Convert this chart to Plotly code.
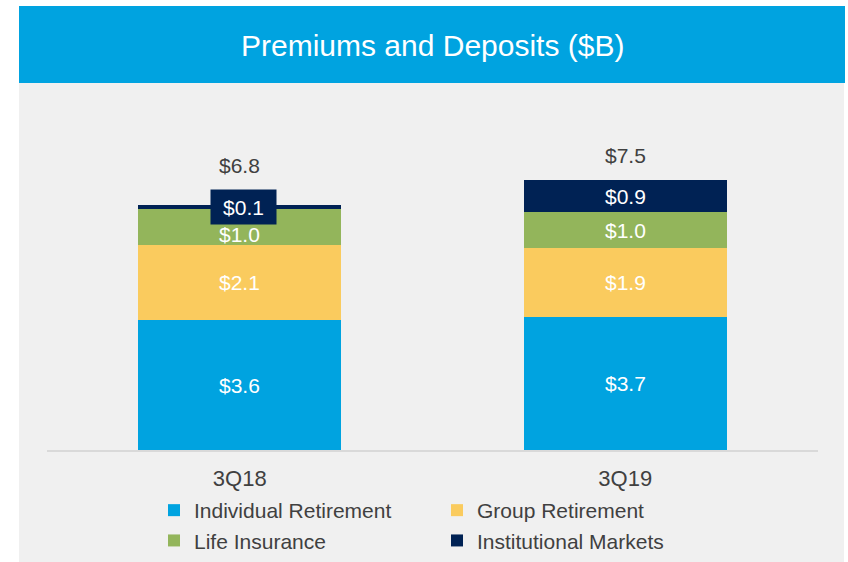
import plotly.graph_objects as go

# ---- data ----
categories = ["3Q18", "3Q19"]
series_names = ["Individual Retirement", "Group Retirement", "Life Insurance", "Institutional Markets"]
individual_retirement = [3.6, 3.7]
group_retirement = [2.1, 1.9]
life_insurance = [1.0, 1.0]
institutional_markets = [0.1, 0.9]
totals = [6.8, 7.5]
title_text = "Premiums and Deposits ($B)"

# ---- style ----
colors = ["#00A3E0", "#FACB5E", "#93B55B", "#002254"]
FONT = "Arial, 'Liberation Sans', sans-serif"
W, H = 848, 562
ML, MR, MT, MB = 47, 30, 100, 112
PW, PH = W - ML - MR, H - MT - MB
PX_PER_UNIT = 36.0
YMAX = PH / PX_PER_UNIT


def px_x(p):
    return (p - ML) / PW


def px_y(p):
    return (H - MB - p) / PH


series_values = [individual_retirement, group_retirement, life_insurance, institutional_markets]

fig = go.Figure()
for name, vals, col in zip(series_names, series_values, colors):
    fig.add_trace(go.Bar(
        x=categories, y=vals, name=name,
        marker=dict(color=col, line=dict(width=0)),
        hoverinfo="skip",
    ))

annotations = []
# segment labels
SMALL = 0.5
label_nudge = {(0, 2): -8}  # pixel nudges for crowded labels (bar, series)
label_xshift_small = 4
for ci, cat in enumerate(categories):
    base = 0.0
    for si, vals in enumerate(series_values):
        v = vals[ci]
        txt = "$%.1f" % v
        if v >= SMALL:
            annotations.append(dict(
                x=cat, y=base + v / 2, xref="x", yref="y", text=txt, showarrow=False,
                font=dict(family=FONT, size=21, color="white"),
                yanchor="middle", yshift=label_nudge.get((ci, si), 0),
            ))
        else:
            annotations.append(dict(
                x=cat, y=base + v / 2, xref="x", yref="y", text=txt, showarrow=False,
                font=dict(family=FONT, size=21, color="white"),
                bgcolor=colors[si], width=65, height=34, borderpad=0,
                yanchor="middle", xshift=label_xshift_small,
            ))
        base += v

# totals
total_shift = [40, 25]
for ci, cat in enumerate(categories):
    annotations.append(dict(
        x=cat, y=totals[ci], xref="x", yref="y", text="$%.1f" % totals[ci], showarrow=False,
        font=dict(family=FONT, size=21, color="#404040"),
        yanchor="middle", yshift=total_shift[ci],
    ))

# header title
annotations.append(dict(
    x=px_x(432), y=px_y(46), xref="paper", yref="paper", text=title_text, showarrow=False,
    font=dict(family=FONT, size=30, color="white"), xanchor="center", yanchor="middle",
))

shapes = [
    dict(type="rect", xref="paper", yref="paper", x0=px_x(19), x1=px_x(844), y0=px_y(570), y1=px_y(83),
         fillcolor="#F0F0F0", line=dict(width=0), layer="below"),
    dict(type="rect", xref="paper", yref="paper", x0=px_x(19), x1=px_x(845), y0=px_y(83), y1=px_y(6),
         fillcolor="#00A3E0", line=dict(width=0), layer="below"),
]

fig.update_layout(
    width=W, height=H,
    margin=dict(l=ML, r=MR, t=MT, b=MB, pad=0, autoexpand=False),
    paper_bgcolor="white", plot_bgcolor="rgba(0,0,0,0)",
    barmode="stack", bargap=0.473,
    font=dict(family=FONT, size=21, color="#404040"),
    showlegend=True,
    legend=dict(
        orientation="h", x=154 / W, xref="container", xanchor="left",
        y=(H - 490) / H, yref="container", yanchor="top",
        entrywidth=238, entrywidthmode="pixels", traceorder="normal",
        font=dict(family=FONT, size=21, color="#404040"), bgcolor="rgba(0,0,0,0)",
        itemwidth=30,
    ),
    xaxis=dict(showline=True, linecolor="#D9D9D9", linewidth=2, showgrid=False, zeroline=False,
               ticks="", ticklabelstandoff=8, tickfont=dict(family=FONT, size=22, color="#404040"),
               fixedrange=True, automargin=False),
    yaxis=dict(range=[0, YMAX], visible=False, showgrid=False, zeroline=False, fixedrange=True,
               automargin=False),
    annotations=annotations,
    shapes=shapes,
)

fig.write_html(
    "out.html",
    config={"displayModeBar": False},
    post_script="document.body.style.margin='0';document.body.style.overflow='hidden';",
)
